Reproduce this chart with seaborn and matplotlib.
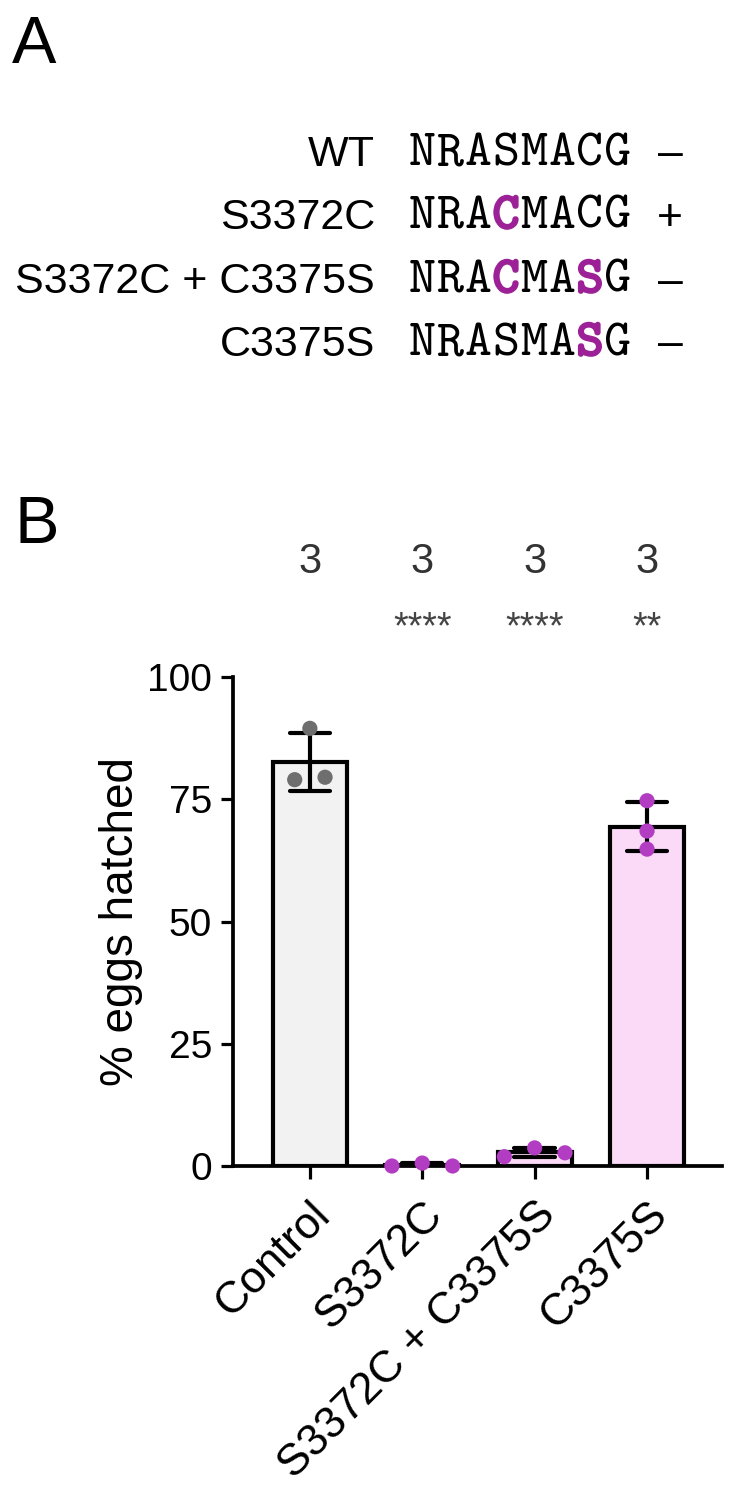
import numpy as np
import pandas as pd
import matplotlib
matplotlib.use("Agg")
import matplotlib.pyplot as plt
import matplotlib.transforms as mtrans
from matplotlib import patheffects as pe
import seaborn as sns

# ---------------- data ----------------
categories = ["Control", "S3372C", "S3372C + C3375S", "C3375S"]
control_vals = [89.5, 79.0, 79.5]
s3372c_vals = [0.0, 0.6, 0.0]
double_vals = [1.9, 3.7, 2.7]
c3375s_vals = [74.7, 68.5, 64.8]
n_labels = ["3", "3", "3", "3"]
sig_labels = ["", "****", "****", "**"]
y_ticks = [0, 25, 50, 75, 100]

mutants = ["WT", "S3372C", "S3372C + C3375S", "C3375S"]
sequences = ["NRASMACG", "NRACMACG", "NRACMASG", "NRASMASG"]
highlight = [[], [3], [3, 6], [6]]
phenotype = ["\u2013", "+", "\u2013", "\u2013"]

# ---------------- style ----------------
sns.set_theme(style="ticks")
plt.rcParams["font.family"] = ["Liberation Sans", "DejaVu Sans"]
for key in ["text.color", "axes.labelcolor", "xtick.color", "ytick.color", "axes.edgecolor"]:
    plt.rcParams[key] = "black"

W, H = 737, 1500
fig = plt.figure(figsize=(W / 100, H / 100), dpi=100)

def fx(px):
    return px / W

def fy(py):
    return 1 - py / H

purple_txt = "#9C2196"
pt_purple = "#B23DC2"
pink_fill = "#FBDAF7"
gray_fill = "#F2F2F2"

# ---------------- panel A ----------------
fig.text(fx(12), fy(63), "A", fontsize=48, va="baseline", ha="left")
row_y = [155, 218, 282, 345]
char_adv = 28
seq_x0 = 408
for i, (m, s, hl, ph) in enumerate(zip(mutants, sequences, highlight, phenotype)):
    y = fy(row_y[i])
    fig.text(fx(375), y, m, fontsize=31, ha="right", va="center")
    for j, ch in enumerate(s):
        kw = dict(fontsize=37, ha="center", va="center", family="cmtt10")
        cx = fx(seq_x0 + char_adv / 2 + j * char_adv)
        if j in hl:
            fig.text(cx, y, ch, color=purple_txt,
                     path_effects=[pe.withStroke(linewidth=1.8, foreground=purple_txt)], **kw)
        else:
            fig.text(cx, y, ch, color="black", **kw)
    fig.text(fx(670), y, ph, fontsize=32, ha="center", va="center")

# ---------------- panel B ----------------
fig.text(fx(14), fy(543), "B", fontsize=48, va="baseline", ha="left")

groups_vals = [control_vals, s3372c_vals, double_vals, c3375s_vals]
df = pd.DataFrame({
    "group": np.repeat(categories, 3),
    "value": sum(groups_vals, []),
})

ax = fig.add_axes([fx(233), fy(1166), (722 - 233) / W, (1166 - 677) / H])

bar_colors = {categories[0]: gray_fill, categories[1]: pink_fill,
              categories[2]: pink_fill, categories[3]: pink_fill}
pt_colors = {categories[0]: "#6E6E6E", categories[1]: pt_purple,
             categories[2]: pt_purple, categories[3]: pt_purple}

sns.barplot(data=df, x="group", y="value", hue="group", order=categories,
            hue_order=categories, palette=bar_colors, width=0.66, errorbar="sd",
            capsize=0.36, err_kws={"color": "black", "linewidth": 3.0},
            edgecolor="black", linewidth=3.0, saturation=1, legend=False, ax=ax)

# Prism-style centered scatter: points that would overlap are spread symmetrically
spread = 0.27
collide = 3.0
xpos = []
for gi, vals in enumerate(groups_vals):
    vals = np.asarray(vals, dtype=float)
    order = np.argsort(vals)
    clusters, cur = [], [order[0]]
    for k in order[1:]:
        if vals[k] - vals[cur[-1]] < collide:
            cur.append(k)
        else:
            clusters.append(cur)
            cur = [k]
    clusters.append(cur)
    pos = np.zeros(len(vals))
    for cl in clusters:
        cl = sorted(cl)  # keep data order left->right
        n = len(cl)
        for r, k in enumerate(cl):
            pos[k] = gi + (r - (n - 1) / 2) * spread
    xpos.extend(pos.tolist())
df["xpos"] = xpos

sns.scatterplot(data=df, x="xpos", y="value", hue="group", hue_order=categories,
                palette=pt_colors, s=120, linewidth=0, legend=False, ax=ax,
                zorder=5, clip_on=False)

ax.set_xlim(-0.684, 3.667)
ax.set_ylim(0, 100)
ax.set_yticks(y_ticks)
ax.set_yticklabels([str(t) for t in y_ticks], fontsize=28)
ax.set_xticks(range(len(categories)))
ax.set_xticklabels(categories, rotation=45, ha="right", rotation_mode="anchor",
                   fontsize=32)
ax.set_xlabel("")
ax.set_ylabel("% eggs hatched", fontsize=33)
ax.yaxis.set_label_coords(-0.185, 0.5)
sns.despine(ax=ax)
for sp in ["left", "bottom"]:
    ax.spines[sp].set_linewidth(2.7)
ax.tick_params(axis="both", width=2.3, length=9, color="black", pad=6)
ax.tick_params(axis="x", pad=11)
ax.patch.set_alpha(0)

blend = mtrans.blended_transform_factory(ax.transData, ax.transAxes)
for i, (n, s) in enumerate(zip(n_labels, sig_labels)):
    ax.text(i, 1.235, n, transform=blend, ha="center", va="center", fontsize=30,
            color="#333333", clip_on=False)
    if s:
        ax.text(i, 1.100, s, transform=blend, ha="center", va="center", fontsize=27,
                color="#444444", clip_on=False)

fig.savefig("out.png", dpi=100)
